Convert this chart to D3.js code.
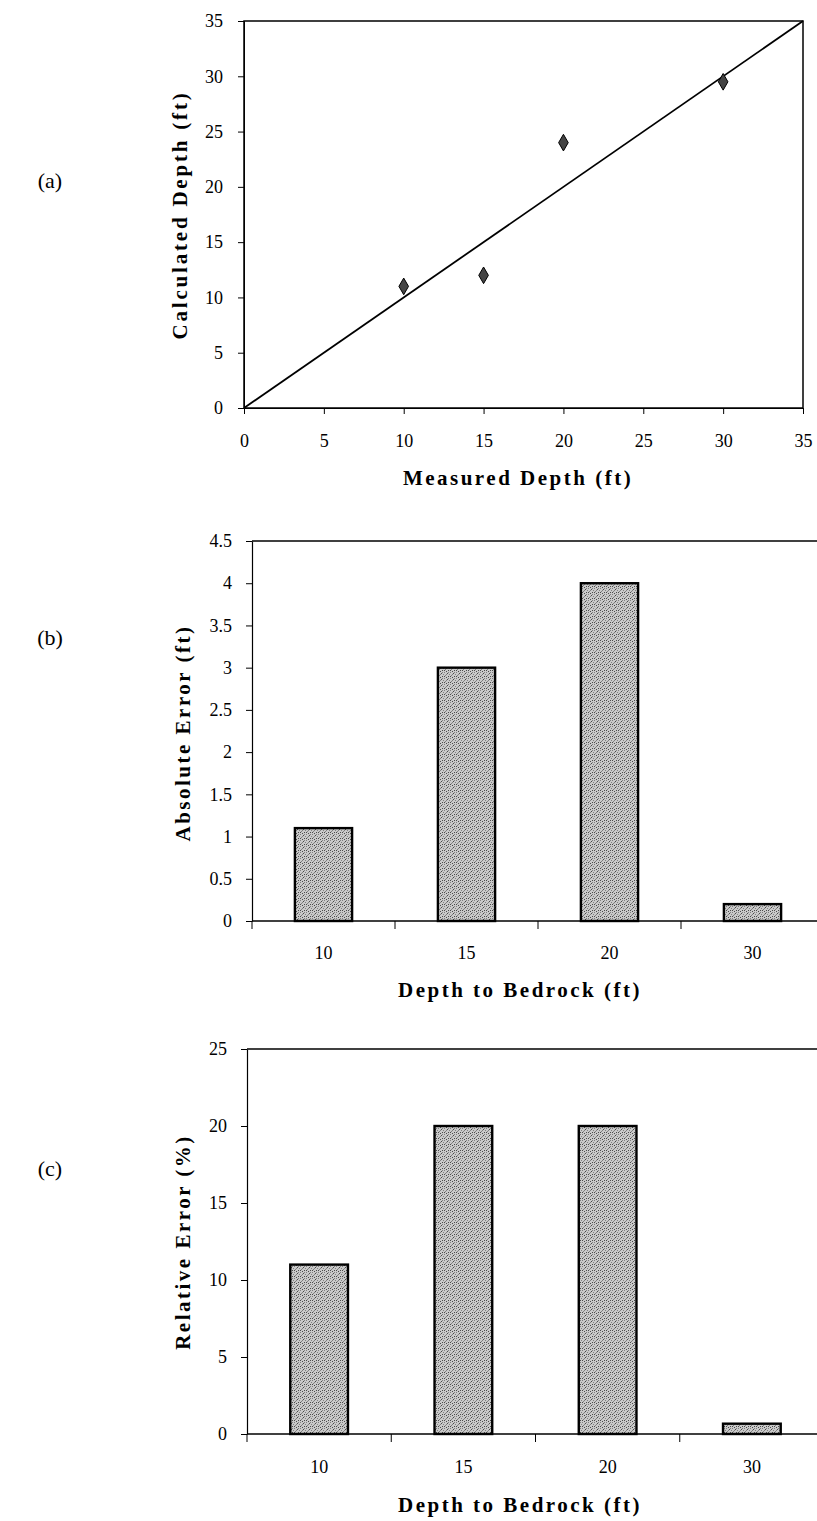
<!DOCTYPE html>
<html><head><meta charset="utf-8">
<script src="https://cdn.jsdelivr.net/npm/d3@7"></script>
<style>
body{margin:0;background:#fff;}
svg text{font-family:"Liberation Serif","Times New Roman",serif;fill:#000;}
</style></head>
<body><svg id="c" width="817" height="1521"></svg>
<script>
// ---- data ----
const measuredDepth = [10, 15, 20, 30];
const calculatedDepth = [11, 12, 24, 29.5];
const xTicksA = [0, 5, 10, 15, 20, 25, 30, 35];
const yTicksA = [0, 5, 10, 15, 20, 25, 30, 35];

const depthCategories = ["10", "15", "20", "30"];
const absoluteError = [1.1, 3.0, 4.0, 0.2];
const yTicksB = [0, 0.5, 1, 1.5, 2, 2.5, 3, 3.5, 4, 4.5];

const relativeError = [11, 20, 20, 0.67];
const yTicksC = [0, 5, 10, 15, 20, 25];

const panelLabels = ["(a)", "(b)", "(c)"];

const svg = d3.select("#c");

// stipple pattern
const defs = svg.append("defs");
const pat = defs.append("pattern").attr("id","stip").attr("patternUnits","userSpaceOnUse")
  .attr("width",6).attr("height",6);
pat.append("rect").attr("width",6).attr("height",6).attr("fill","#c9c9c9");
[[0,0],[3,1],[1,3],[4,4],[5,2],[2,5],[4,0],[0,4],[2,2]].forEach(([x,y],i)=>{
  pat.append("rect").attr("x",x).attr("y",y).attr("width",1).attr("height",1)
    .attr("fill", i%2 ? "#4a4a4a" : "#808080");
});

function styleAxis(g, fs){
  g.selectAll("text").style("font-size", fs+"px").style("font-family","Liberation Serif");
  g.selectAll("line,path").attr("stroke","#000");
}
const TICKFS = 18, TITLEFS = 21;

// ---------- Panel (a) ----------
{
  const L=244,R=803,T=21,B=408;
  const x = d3.scaleLinear().domain([0,35]).range([L,R]);
  const y = d3.scaleLinear().domain([0,35]).range([B,T]);
  const g = svg.append("g");
  g.append("rect").attr("x",L).attr("y",T).attr("width",R-L).attr("height",B-T)
    .attr("fill","none").attr("stroke","#000").attr("stroke-width",1.5);
  const ax = g.append("g").attr("transform",`translate(0,${B})`)
    .call(d3.axisBottom(x).tickValues(xTicksA).tickSize(6).tickSizeOuter(0).tickPadding(20));
  styleAxis(ax,TICKFS);
  const ay = g.append("g").attr("transform",`translate(${L},0)`)
    .call(d3.axisLeft(y).tickValues(yTicksA).tickSize(6).tickSizeOuter(0).tickPadding(15));
  styleAxis(ay,TICKFS);
  g.append("line").attr("x1",x(0)).attr("y1",y(0)).attr("x2",x(35)).attr("y2",y(35))
    .attr("stroke","#000").attr("stroke-width",1.8);
  const sym = d3.symbol().type(d3.symbolDiamond).size(80);
  g.selectAll(".pt").data(measuredDepth.map((m,i)=>[m,calculatedDepth[i]])).join("path")
    .attr("d",sym).attr("transform",d=>`translate(${x(d[0])},${y(d[1])})`)
    .attr("fill","#444").attr("stroke","#000").attr("stroke-width",1);
  g.append("text").attr("x",518).attr("y",485).attr("text-anchor","middle")
    .style("font-size",TITLEFS+"px").style("font-weight","bold").style("letter-spacing","2.5px")
    .text("Measured Depth (ft)");
  g.append("text").attr("transform",`translate(187,215) rotate(-90)`).attr("text-anchor","middle")
    .style("font-size",TITLEFS+"px").style("font-weight","bold").style("letter-spacing","2.8px")
    .text("Calculated Depth (ft)");
  g.append("text").attr("x",50).attr("y",188).attr("text-anchor","middle")
    .style("font-size","22px").text(panelLabels[0]);
}

function barPanel(opt){
  const {L,R,T,B,values,ticks,ymax,ylabel,xlabelY,tickLabelY,panelLabel,panelY,ylabelY} = opt;
  const x = d3.scaleBand().domain(depthCategories).range([L,R]).paddingInner(0.6).paddingOuter(0.3);
  const y = d3.scaleLinear().domain([0,ymax]).range([B,T]);
  const g = svg.append("g");
  g.append("line").attr("x1",L).attr("x2",R).attr("y1",T).attr("y2",T).attr("stroke","#000").attr("stroke-width",1.5);
  const ay = g.append("g").attr("transform",`translate(${L},0)`)
    .call(d3.axisLeft(y).tickValues(ticks).tickFormat(d3.format("")).tickSize(6).tickSizeOuter(0).tickPadding(14));
  styleAxis(ay,TICKFS);
  ay.select(".domain").attr("stroke-width",1.2);
  g.selectAll(".bar").data(values.map((v,i)=>[depthCategories[i],v])).join("rect")
    .attr("x",d=>x(d[0])).attr("width",x.bandwidth())
    .attr("y",d=>y(d[1])).attr("height",d=>B-y(d[1]))
    .attr("fill","url(#stip)").attr("stroke","#000").attr("stroke-width",2.4);
  g.append("line").attr("x1",L).attr("x2",R).attr("y1",B).attr("y2",B).attr("stroke","#000").attr("stroke-width",1.5);
  const half = x.step()*x.paddingInner()/2;
  const bounds = depthCategories.map(c=>x(c)-half);
  g.selectAll(".bt").data(bounds).join("line")
    .attr("x1",d=>d).attr("x2",d=>d).attr("y1",B).attr("y2",B+8).attr("stroke","#000").attr("stroke-width",1);
  g.selectAll(".xl").data(depthCategories).join("text")
    .attr("x",d=>x(d)+x.bandwidth()/2).attr("y",tickLabelY).attr("text-anchor","middle")
    .style("font-size",TICKFS+"px").text(d=>d);
  g.append("text").attr("x",520).attr("y",xlabelY).attr("text-anchor","middle")
    .style("font-size",TITLEFS+"px").style("font-weight","bold").style("letter-spacing","2.5px")
    .text("Depth to Bedrock (ft)");
  g.append("text").attr("transform",`translate(190,${ylabelY}) rotate(-90)`).attr("text-anchor","middle")
    .style("font-size",TITLEFS+"px").style("font-weight","bold").style("letter-spacing","2.5px")
    .text(ylabel);
  g.append("text").attr("x",50).attr("y",panelY).attr("text-anchor","middle")
    .style("font-size","22px").text(panelLabel);
}

barPanel({L:252,R:824,T:541,B:921,values:absoluteError,ticks:yTicksB,ymax:4.5,
  ylabel:"Absolute Error (ft)",xlabelY:997,tickLabelY:959,panelLabel:panelLabels[1],panelY:645,ylabelY:733});
barPanel({L:247,R:824,T:1049,B:1434,values:relativeError,ticks:yTicksC,ymax:25,
  ylabel:"Relative Error (%)",xlabelY:1512,tickLabelY:1473,panelLabel:panelLabels[2],panelY:1176,ylabelY:1242});
</script></body></html>
